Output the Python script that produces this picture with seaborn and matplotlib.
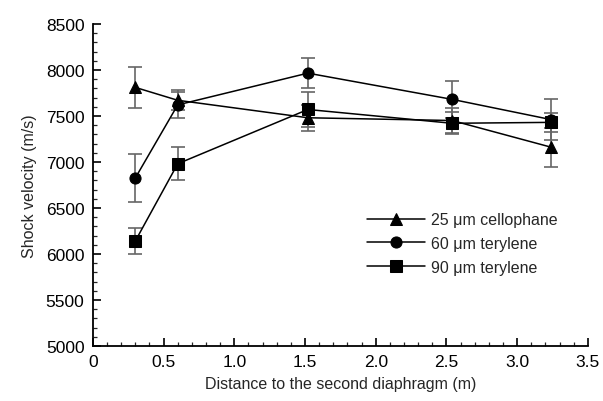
import numpy as np
import pandas as pd
import matplotlib
matplotlib.use("Agg")
import matplotlib.pyplot as plt
from matplotlib.ticker import MultipleLocator, FuncFormatter
import seaborn as sns

# --- Data ---
distance = [0.3, 0.6, 1.52, 2.54, 3.24]
cellophane_25 = [7810, 7670, 7480, 7450, 7160]
cellophane_25_err = [220, 110, 140, 140, 210]
terylene_60 = [6825, 7620, 7965, 7680, 7460]
terylene_60_err = [260, 140, 165, 200, 220]
terylene_90 = [6140, 6980, 7570, 7420, 7430]
terylene_90_err = [140, 180, 190, 120, 100]

labels = ["25 \u03bcm cellophane", "60 \u03bcm terylene", "90 \u03bcm terylene"]
series = [cellophane_25, terylene_60, terylene_90]
errors = [cellophane_25_err, terylene_60_err, terylene_90_err]
markers = ["^", "o", "s"]

rows = []
for lab, vals, errs in zip(labels, series, errors):
    for x, v, e in zip(distance, vals, errs):
        rows.append({"distance": x, "velocity": v, "err": e, "film": lab})
df = pd.DataFrame(rows)

sns.set_style("ticks")
plt.rcParams["font.family"] = ["Liberation Sans", "DejaVu Sans"]

fig = plt.figure(figsize=(6.03, 4.02), dpi=100)
ax = fig.add_axes([0.154, 0.137, 0.821, 0.801])

# grey error bars first
for lab in labels:
    d = df[df["film"] == lab]
    ax.errorbar(d["distance"], d["velocity"], yerr=d["err"], fmt="none",
                ecolor="#666666", elinewidth=1.2, capsize=5, capthick=1.2, zorder=2)

sns.lineplot(data=df, x="distance", y="velocity", hue="film", style="film",
             markers=dict(zip(labels, markers)), dashes=False,
             palette=["black"] * 3, hue_order=labels, style_order=labels,
             markersize=8, markeredgecolor="black", linewidth=1.1, ax=ax, zorder=3)

ax.set_xlim(0, 3.5)
ax.set_ylim(5000, 8500)
ax.xaxis.set_major_locator(MultipleLocator(0.5))
ax.xaxis.set_minor_locator(MultipleLocator(0.1))
ax.yaxis.set_major_locator(MultipleLocator(500))
ax.yaxis.set_minor_locator(MultipleLocator(100))
ax.xaxis.set_major_formatter(FuncFormatter(lambda v, p: "0" if abs(v) < 1e-9 else f"{v:.1f}"))
ax.tick_params(which="major", direction="in", length=6, width=1.2, labelsize=12.5,
               colors="black", pad=6)
ax.tick_params(which="minor", direction="in", length=3, width=0.9)
for s in ["top", "right"]:
    ax.spines[s].set_visible(False)
for s in ["left", "bottom"]:
    ax.spines[s].set_linewidth(1.3)
    ax.spines[s].set_color("black")

ax.set_xlabel("Distance to the second diaphragm (m)", fontsize=11.5, labelpad=5)
ax.set_ylabel("Shock velocity (m/s)", fontsize=11.5, labelpad=6)

ax.legend(loc="upper left", bbox_to_anchor=(0.525, 0.46), frameon=False,
          fontsize=11.5, handlelength=3.6, labelspacing=0.55, handletextpad=0.4)

plt.savefig("out.png", dpi=100)
plt.close()
